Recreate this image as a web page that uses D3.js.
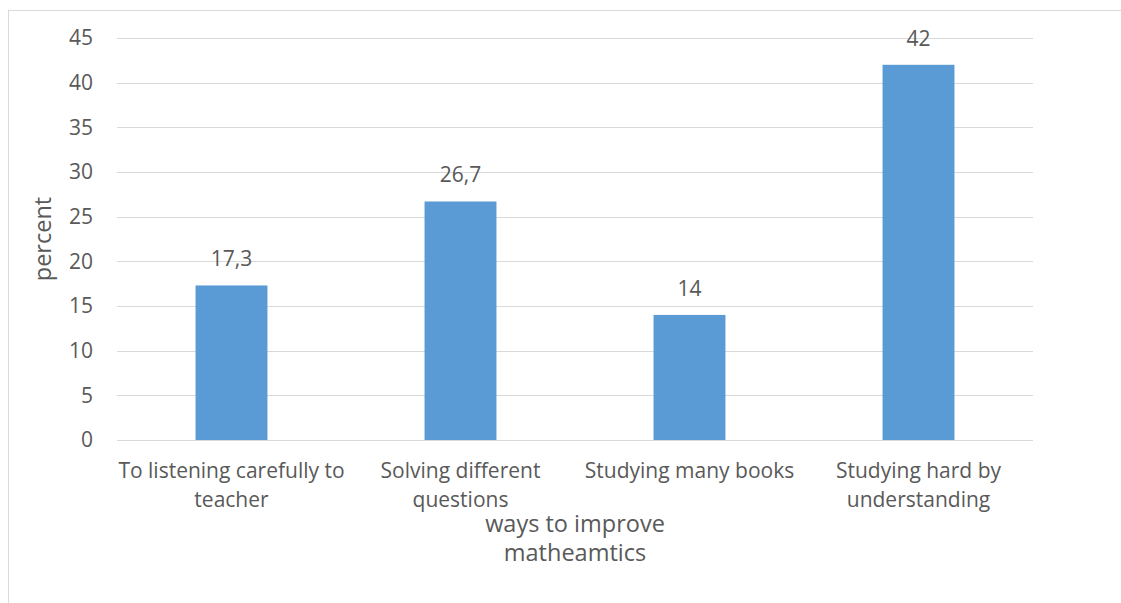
<!DOCTYPE html>
<html>
<head>
<meta charset="utf-8">
<script src="https://cdn.jsdelivr.net/npm/d3@7"></script>
<style>
  html, body { margin: 0; padding: 0; background: #fff; }
  svg { display: block; }
  text { font-family: "Open Sans", Lato, sans-serif; fill: #595959; }
</style>
</head>
<body>
<svg id="chart" width="1121" height="603"></svg>
<script>
// Survey results: ways to improve mathematics (percent of respondents)
const categories = [
  ["To listening carefully to", "teacher"],
  ["Solving different", "questions"],
  ["Studying many books"],
  ["Studying hard by", "understanding"]
];
const values = [17.3, 26.7, 14, 42];
const valueLabels = ["17,3", "26,7", "14", "42"];
const yTicks = [0, 5, 10, 15, 20, 25, 30, 35, 40, 45];
const yTitle = "percent";
const xTitle = ["ways to improve", "matheamtics"];

const svg = d3.select("#chart");
const W = 1121, H = 603;
const margin = { left: 117, right: 88, top: 38, bottom: 163 };
const plotW = W - margin.left - margin.right;
const plotH = H - margin.top - margin.bottom;
const labelSize = "21px";
const titleSize = "23.5px";

// Outer chart-area border
svg.append("rect")
  .attr("x", 8.5).attr("y", 10.5)
  .attr("width", W + 10).attr("height", H + 10)
  .attr("fill", "none").attr("stroke", "#d9d9d9").attr("stroke-width", 1);

const g = svg.append("g").attr("transform", `translate(${margin.left},${margin.top})`);

const x = d3.scaleBand()
  .domain(d3.range(categories.length))
  .range([0, plotW])
  .paddingInner(0.686)
  .paddingOuter(0.343);

const y = d3.scaleLinear().domain([0, 45]).range([plotH, 0]);

// Horizontal gridlines
g.append("g")
  .selectAll("line")
  .data(yTicks)
  .join("line")
  .attr("x1", 0).attr("x2", plotW)
  .attr("y1", d => Math.round(y(d)) + 0.5)
  .attr("y2", d => Math.round(y(d)) + 0.5)
  .attr("stroke", "#d9d9d9").attr("stroke-width", 1);

// Y axis tick labels
const yAxis = d3.axisLeft(y).tickValues(yTicks).tickSize(0).tickPadding(24);
const yg = g.append("g").call(yAxis);
yg.select(".domain").remove();
yg.selectAll("text")
  .style("font-family", "'Open Sans', Lato, sans-serif")
  .style("font-size", labelSize)
  .attr("fill", "#595959");

// Bars
g.append("g")
  .selectAll("rect")
  .data(values)
  .join("rect")
  .attr("x", (d, i) => x(i))
  .attr("y", d => y(d))
  .attr("width", x.bandwidth())
  .attr("height", d => y(0) - y(d))
  .attr("fill", "#5b9bd5");

// Value labels above bars
g.append("g")
  .selectAll("text")
  .data(values)
  .join("text")
  .attr("x", (d, i) => x(i) + x.bandwidth() / 2)
  .attr("y", d => y(d) - 19)
  .attr("text-anchor", "middle")
  .style("font-size", labelSize)
  .text((d, i) => valueLabels[i]);

// Category labels
const catG = g.append("g").attr("transform", `translate(0,${plotH})`);
categories.forEach((lines, i) => {
  const t = catG.append("text")
    .attr("x", x(i) + x.bandwidth() / 2)
    .attr("y", 38)
    .attr("text-anchor", "middle")
    .style("font-size", labelSize);
  lines.forEach((ln, j) => {
    t.append("tspan")
      .attr("x", x(i) + x.bandwidth() / 2)
      .attr("dy", j === 0 ? 0 : 29)
      .text(ln);
  });
});

// X axis title
const xt = g.append("text")
  .attr("x", plotW / 2)
  .attr("y", plotH + 92)
  .attr("text-anchor", "middle")
  .style("font-size", titleSize);
xTitle.forEach((ln, j) => {
  xt.append("tspan").attr("x", plotW / 2).attr("dy", j === 0 ? 0 : 28.5).text(ln);
});

// Y axis title
svg.append("text")
  .attr("transform", `translate(${51},${margin.top + plotH / 2}) rotate(-90)`)
  .attr("text-anchor", "middle")
  .style("font-size", titleSize)
  .text(yTitle);
</script>
</body>
</html>
